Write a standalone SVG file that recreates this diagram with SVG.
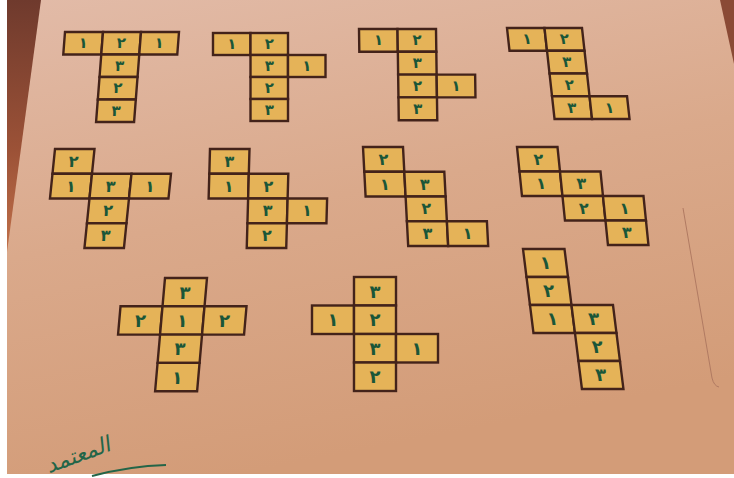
<svg xmlns="http://www.w3.org/2000/svg" width="734" height="478" viewBox="0 0 734 478">
<defs>
<linearGradient id="paper" x1="0" y1="0" x2="0.3" y2="1">
<stop offset="0" stop-color="#e2bba8"/>
<stop offset="0.5" stop-color="#daa98b"/>
<stop offset="1" stop-color="#d39c78"/>
</linearGradient>
<linearGradient id="wood" x1="0" y1="0" x2="0" y2="1">
<stop offset="0" stop-color="#6f3a2d"/>
<stop offset="0.6" stop-color="#9c5237"/>
<stop offset="1" stop-color="#c0704a"/>
</linearGradient>
<style>
.c{fill:#e5b358;stroke:#43231a;stroke-width:2.4}
.d{font-family:"DejaVu Sans",sans-serif;font-weight:bold;fill:#1a5638;text-anchor:middle;dominant-baseline:central}
.s{font-size:15px}.m{font-size:16px}.l{font-size:18px}
</style>
</defs>
<g id="background">
<rect x="0" y="0" width="734" height="478" fill="url(#paper)"/>
<polygon points="7,0 41,0 7,252" fill="url(#wood)"/>
<polygon points="720,0 734,0 734,64" fill="#8a4a35"/>
<path d="M683,208 L712,378 Q714,386 719,387" fill="none" stroke="#b07a62" stroke-width="1"/>
<rect x="0" y="0" width="7" height="478" fill="#ffffff"/>
<rect x="0" y="474" width="734" height="4" fill="#ffffff"/>
</g>

<g id="net1" transform="translate(65,32) skewX(-4.4)">
<rect class="c" x="0" y="0" width="38" height="22.5"/><text class="d s" x="19" y="11.25">١</text>
<rect class="c" x="38" y="0" width="38" height="22.5"/><text class="d s" x="57" y="11.25">٢</text>
<rect class="c" x="76" y="0" width="38" height="22.5"/><text class="d s" x="95" y="11.25">١</text>
<rect class="c" x="38" y="22.5" width="38" height="22.5"/><text class="d s" x="57" y="33.75">٣</text>
<rect class="c" x="38" y="45" width="38" height="22.5"/><text class="d s" x="57" y="56.25">٢</text>
<rect class="c" x="38" y="67.5" width="38" height="22.5"/><text class="d s" x="57" y="78.75">٣</text>
</g>

<g id="net2" transform="translate(213,33)">
<rect class="c" x="0" y="0" width="37.5" height="22"/><text class="d s" x="18.75" y="11">١</text>
<rect class="c" x="37.5" y="0" width="37.5" height="22"/><text class="d s" x="56.25" y="11">٢</text>
<rect class="c" x="37.5" y="22" width="37.5" height="22"/><text class="d s" x="56.25" y="33">٣</text>
<rect class="c" x="75" y="22" width="37.5" height="22"/><text class="d s" x="93.75" y="33">١</text>
<rect class="c" x="37.5" y="44" width="37.5" height="22"/><text class="d s" x="56.25" y="55">٢</text>
<rect class="c" x="37.5" y="66" width="37.5" height="22"/><text class="d s" x="56.25" y="77">٣</text>
</g>

<g id="net3" transform="translate(359,29) skewX(0.8)">
<rect class="c" x="0" y="0" width="38.5" height="22.8"/><text class="d s" x="19.25" y="11.4">١</text>
<rect class="c" x="38.5" y="0" width="38.5" height="22.8"/><text class="d s" x="57.75" y="11.4">٢</text>
<rect class="c" x="38.5" y="22.8" width="38.5" height="22.8"/><text class="d s" x="57.75" y="34.2">٣</text>
<rect class="c" x="38.5" y="45.6" width="38.5" height="22.8"/><text class="d s" x="57.75" y="57">٢</text>
<rect class="c" x="77" y="45.6" width="38.5" height="22.8"/><text class="d s" x="96.25" y="57">١</text>
<rect class="c" x="38.5" y="68.4" width="38.5" height="22.8"/><text class="d s" x="57.75" y="79.8">٣</text>
</g>

<g id="net4" transform="translate(507,28) skewX(6.3)">
<rect class="c" x="0" y="0" width="37.5" height="22.75"/><text class="d s" x="18.75" y="11.4">١</text>
<rect class="c" x="37.5" y="0" width="37.5" height="22.75"/><text class="d s" x="56.25" y="11.4">٢</text>
<rect class="c" x="37.5" y="22.75" width="37.5" height="22.75"/><text class="d s" x="56.25" y="34.1">٣</text>
<rect class="c" x="37.5" y="45.5" width="37.5" height="22.75"/><text class="d s" x="56.25" y="56.9">٢</text>
<rect class="c" x="37.5" y="68.25" width="37.5" height="22.75"/><text class="d s" x="56.25" y="79.6">٣</text>
<rect class="c" x="75" y="68.25" width="37.5" height="22.75"/><text class="d s" x="93.75" y="79.6">١</text>
</g>

<g id="net5" transform="translate(55,149) skewX(-5.8)">
<rect class="c" x="0" y="0" width="39.5" height="24.75"/><text class="d m" x="19.75" y="12.4">٢</text>
<rect class="c" x="0" y="24.75" width="39.5" height="24.75"/><text class="d m" x="19.75" y="37.1">١</text>
<rect class="c" x="39.5" y="24.75" width="39.5" height="24.75"/><text class="d m" x="59.25" y="37.1">٣</text>
<rect class="c" x="79" y="24.75" width="39.5" height="24.75"/><text class="d m" x="98.75" y="37.1">١</text>
<rect class="c" x="39.5" y="49.5" width="39.5" height="24.75"/><text class="d m" x="59.25" y="61.9">٢</text>
<rect class="c" x="39.5" y="74.25" width="39.5" height="24.75"/><text class="d m" x="59.25" y="86.6">٣</text>
</g>

<g id="net6" transform="translate(210,149) skewX(-1.6)">
<rect class="c" x="0" y="0" width="39.5" height="24.75"/><text class="d m" x="19.75" y="12.4">٣</text>
<rect class="c" x="0" y="24.75" width="39.5" height="24.75"/><text class="d m" x="19.75" y="37.1">١</text>
<rect class="c" x="39.5" y="24.75" width="39.5" height="24.75"/><text class="d m" x="59.25" y="37.1">٢</text>
<rect class="c" x="39.5" y="49.5" width="39.5" height="24.75"/><text class="d m" x="59.25" y="61.9">٣</text>
<rect class="c" x="79" y="49.5" width="39.5" height="24.75"/><text class="d m" x="98.75" y="61.9">١</text>
<rect class="c" x="39.5" y="74.25" width="39.5" height="24.75"/><text class="d m" x="59.25" y="86.6">٢</text>
</g>

<g id="net7" transform="translate(363,147) skewX(3)">
<rect class="c" x="0" y="0" width="40" height="24.75"/><text class="d m" x="20" y="12.4">٢</text>
<rect class="c" x="0" y="24.75" width="40" height="24.75"/><text class="d m" x="20" y="37.1">١</text>
<rect class="c" x="40" y="24.75" width="40" height="24.75"/><text class="d m" x="60" y="37.1">٣</text>
<rect class="c" x="40" y="49.5" width="40" height="24.75"/><text class="d m" x="60" y="61.9">٢</text>
<rect class="c" x="40" y="74.25" width="40" height="24.75"/><text class="d m" x="60" y="86.6">٣</text>
<rect class="c" x="80" y="74.25" width="40" height="24.75"/><text class="d m" x="100" y="86.6">١</text>
</g>

<g id="net8" transform="translate(517,147) skewX(5.8)">
<rect class="c" x="0" y="0" width="40.5" height="24.5"/><text class="d m" x="20.25" y="12.25">٢</text>
<rect class="c" x="0" y="24.5" width="40.5" height="24.5"/><text class="d m" x="20.25" y="36.75">١</text>
<rect class="c" x="40.5" y="24.5" width="40.5" height="24.5"/><text class="d m" x="60.75" y="36.75">٣</text>
<rect class="c" x="40.5" y="49" width="40.5" height="24.5"/><text class="d m" x="60.75" y="61.25">٢</text>
<rect class="c" x="81" y="49" width="40.5" height="24.5"/><text class="d m" x="101.25" y="61.25">١</text>
<rect class="c" x="81" y="73.5" width="40.5" height="24.5"/><text class="d m" x="101.25" y="85.75">٣</text>
</g>

<g id="net9" transform="translate(123,278) skewX(-5)">
<rect class="c" x="42" y="0" width="42" height="28.3"/><text class="d l" x="63" y="14.15">٣</text>
<rect class="c" x="0" y="28.3" width="42" height="28.3"/><text class="d l" x="21" y="42.45">٢</text>
<rect class="c" x="42" y="28.3" width="42" height="28.3"/><text class="d l" x="63" y="42.45">١</text>
<rect class="c" x="84" y="28.3" width="42" height="28.3"/><text class="d l" x="105" y="42.45">٢</text>
<rect class="c" x="42" y="56.6" width="42" height="28.3"/><text class="d l" x="63" y="70.75">٣</text>
<rect class="c" x="42" y="84.9" width="42" height="28.3"/><text class="d l" x="63" y="99.05">١</text>
</g>

<g id="net10" transform="translate(312,277)">
<rect class="c" x="42" y="0" width="42" height="28.5"/><text class="d l" x="63" y="14.25">٣</text>
<rect class="c" x="0" y="28.5" width="42" height="28.5"/><text class="d l" x="21" y="42.75">١</text>
<rect class="c" x="42" y="28.5" width="42" height="28.5"/><text class="d l" x="63" y="42.75">٢</text>
<rect class="c" x="42" y="57" width="42" height="28.5"/><text class="d l" x="63" y="71.25">٣</text>
<rect class="c" x="84" y="57" width="42" height="28.5"/><text class="d l" x="105" y="71.25">١</text>
<rect class="c" x="42" y="85.5" width="42" height="28.5"/><text class="d l" x="63" y="99.75">٢</text>
</g>

<g id="net11" transform="translate(523,249) skewX(7.1)">
<rect class="c" x="0" y="0" width="41.5" height="28"/><text class="d l" x="20.75" y="14">١</text>
<rect class="c" x="0" y="28" width="41.5" height="28"/><text class="d l" x="20.75" y="42">٢</text>
<rect class="c" x="0" y="56" width="41.5" height="28"/><text class="d l" x="20.75" y="70">١</text>
<rect class="c" x="41.5" y="56" width="41.5" height="28"/><text class="d l" x="62.25" y="70">٣</text>
<rect class="c" x="41.5" y="84" width="41.5" height="28"/><text class="d l" x="62.25" y="98">٢</text>
<rect class="c" x="41.5" y="112" width="41.5" height="28"/><text class="d l" x="62.25" y="126">٣</text>
</g>

<g id="signature">
<text x="79" y="462" transform="rotate(-20 79 458)" font-family="DejaVu Sans, sans-serif" font-size="22" font-style="italic" fill="#236548" text-anchor="middle">المعتمد</text>
<path d="M92,476 Q130,466 166,465" fill="none" stroke="#236548" stroke-width="2"/>
</g>
</svg>
